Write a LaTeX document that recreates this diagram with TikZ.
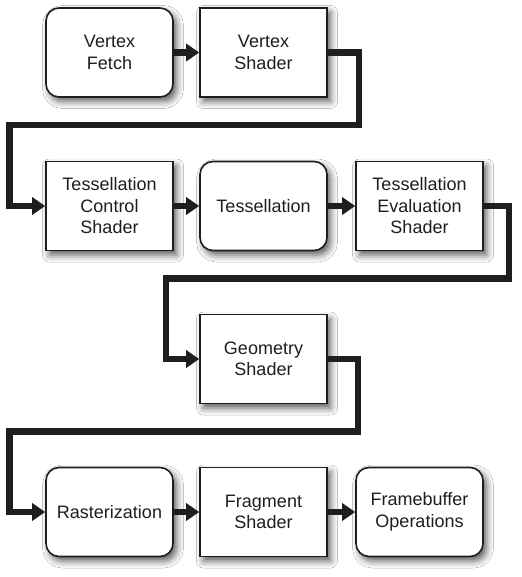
\documentclass[tikz,border=0pt]{standalone}
\usepackage{fontspec}
\setmainfont{Liberation Sans}
\usetikzlibrary{arrows.meta,shadows.blur}
\definecolor{ink}{HTML}{1E1E1E}
\tikzset{
  stage/.style={draw=ink, line width=1.6pt, fill=white, minimum width=127pt, minimum height=89pt,
    align=center, text=ink, inner sep=2pt,
    font=\fontsize{18}{21.5}\selectfont,
    blur shadow={shadow xshift=3.5pt, shadow yshift=-4.5pt, shadow blur radius=7pt, shadow opacity=65}},
  rstage/.style={stage, rounded corners=13pt},
  conn/.style={draw=ink, line width=6.5pt, line join=miter,
    -{Triangle[length=13pt,width=17pt]}}
}
\begin{document}
\begin{tikzpicture}[x=1pt,y=-1pt]
\useasboundingbox[fill=white] (0,0) rectangle (521,577);
% row 1
\node[rstage] (vf) at (109.5,52.5) {Vertex\\Fetch};
\node[stage]  (vs) at (263.5,52.5) {Vertex\\Shader};
% row 2
\node[stage]  (tcs) at (109.5,206) {Tessellation\\Control\\Shader};
\node[rstage] (tess) at (263.5,206) {Tessellation};
\node[stage]  (tes) at (419.5,206) {Tessellation\\Evaluation\\Shader};
% row 3
\node[stage]  (geo) at (263.5,359) {Geometry\\Shader};
% row 4
\node[rstage] (ras) at (109.5,512) {Rasterization};
\node[stage]  (frag) at (263.5,512) {Fragment\\Shader};
\node[rstage] (fb) at (419.5,512) {Framebuffer\\Operations};
% bend points
\coordinate (r1) at (359,125);
\coordinate (l1) at (9.5,125);
\coordinate (r2) at (509,278.5);
\coordinate (l2) at (166,278.5);
\coordinate (r3) at (358,431.5);
\coordinate (l3) at (9.5,431.5);
% connectors
\draw[conn] (vf) -- (vs);
\draw[conn] (vs.east) -| (r1) -- (l1) |- (tcs.west);
\draw[conn] (tcs) -- (tess);
\draw[conn] (tess) -- (tes);
\draw[conn] (tes.east) -| (r2) -- (l2) |- (geo.west);
\draw[conn] (geo.east) -| (r3) -- (l3) |- (ras.west);
\draw[conn] (ras) -- (frag);
\draw[conn] (frag) -- (fb);
\end{tikzpicture}
\end{document}
